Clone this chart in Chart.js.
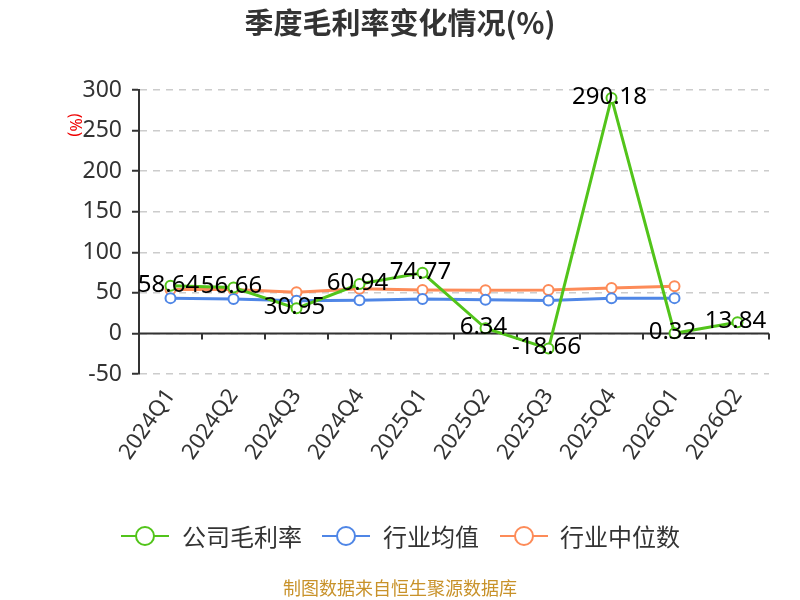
<!DOCTYPE html>
<html>
<head>
<meta charset="utf-8">
<script src="https://cdn.jsdelivr.net/npm/chart.js@4/dist/chart.umd.min.js"></script>
<style>
  html, body { margin: 0; padding: 0; background: #fff; }
  #wrap { width: 800px; height: 600px; }
</style>
</head>
<body>
<div id="wrap"><canvas id="chart" width="800" height="600"></canvas></div>
<script>
var FONT = '"Noto Sans", "Noto Sans CJK SC", sans-serif';
var CJK = '"Noto Sans CJK SC", sans-serif';

var quarters = ['2024Q1', '2024Q2', '2024Q3', '2024Q4', '2025Q1', '2025Q2', '2025Q3', '2025Q4', '2026Q1', '2026Q2'];
var companyMargin = [58.64, 56.66, 30.95, 60.94, 74.77, 6.34, -18.66, 290.18, 0.32, 13.84];
var industryAvg = [43.5, 42.3, 40.2, 40.8, 42.5, 41.5, 40.5, 43.2, 43.5, null];
var industryMedian = [54, 54, 50.8, 55, 53.5, 53.3, 53.5, 56, 58, null];
var yTicks = [-50, 0, 50, 100, 150, 200, 250, 300];

var seriesNames = ['公司毛利率', '行业均值', '行业中位数'];
var colors = ['#52c41a', '#4f86e6', '#fd8b58'];

// 标题、零轴、数据标签、图例、脚注
var decoPlugin = {
  id: 'deco',
  beforeDatasetsDraw: function(chart) {
    var ctx = chart.ctx, x = chart.scales.x, y = chart.scales.y;
    var y0 = y.getPixelForValue(0);
    ctx.save();
    ctx.strokeStyle = '#333';
    ctx.lineWidth = 2;
    ctx.beginPath();
    ctx.moveTo(x.left, y0);
    ctx.lineTo(x.right, y0);
    var step = (x.right - x.left) / quarters.length;
    for (var i = 0; i <= quarters.length; i++) {
      var px = Math.round(x.left + step * i);
      ctx.moveTo(px, y0);
      ctx.lineTo(px, y0 + 6);
    }
    ctx.stroke();
    ctx.restore();
  },
  afterDatasetsDraw: function(chart) {
    var ctx = chart.ctx;
    var meta = chart.getDatasetMeta(0);
    ctx.save();
    ctx.font = '24px ' + FONT;
    ctx.fillStyle = '#000';
    ctx.textAlign = 'center';
    ctx.textBaseline = 'middle';
    meta.data.forEach(function(pt, i) {
      ctx.fillText(companyMargin[i].toFixed(2), pt.x - 2, pt.y - 1);
    });
    ctx.restore();
  },
  afterDraw: function(chart) {
    var ctx = chart.ctx;
    ctx.save();
    // 标题
    ctx.font = 'bold 29px ' + CJK;
    ctx.fillStyle = '#333';
    ctx.textAlign = 'center';
    ctx.textBaseline = 'middle';
    ctx.fillText('季度毛利率变化情况(%)', 400, 23);

    // y轴单位
    ctx.save();
    ctx.translate(75, 125);
    ctx.rotate(Math.PI / 2);
    ctx.font = '16px ' + FONT;
    ctx.fillStyle = '#e00';
    ctx.fillText('(%)', 0, 0);
    ctx.restore();

    // 图例
    var items = [
      { x: 121, tx: 182 },
      { x: 322, tx: 383 },
      { x: 500, tx: 560 }
    ];
    var ly = 536;
    items.forEach(function(it, i) {
      ctx.strokeStyle = colors[i];
      ctx.lineWidth = 2;
      ctx.beginPath();
      ctx.moveTo(it.x, ly);
      ctx.lineTo(it.x + 48, ly);
      ctx.stroke();
      ctx.beginPath();
      ctx.arc(it.x + 24, ly, 9, 0, Math.PI * 2);
      ctx.fillStyle = '#fff';
      ctx.fill();
      ctx.stroke();
      ctx.font = '24px ' + CJK;
      ctx.fillStyle = '#333';
      ctx.textAlign = 'left';
      ctx.fillText(seriesNames[i], it.tx, ly + 1);
    });

    // 脚注
    ctx.font = '18px ' + CJK;
    ctx.fillStyle = '#c8922a';
    ctx.textAlign = 'center';
    ctx.fillText('制图数据来自恒生聚源数据库', 400, 588);
    ctx.restore();
  }
};

function makeSet(label, data, color) {
  return {
    label: label,
    data: data,
    borderColor: color,
    backgroundColor: '#fff',
    borderWidth: 3,
    pointRadius: 5,
    pointBorderWidth: 2,
    pointBackgroundColor: '#fff',
    pointBorderColor: color,
    tension: 0,
    spanGaps: false
  };
}

var ctx = document.getElementById('chart').getContext('2d');
var chart = new Chart(ctx, {
  type: 'line',
  data: {
    labels: quarters,
    datasets: [
      makeSet(seriesNames[0], companyMargin, colors[0]),
      makeSet(seriesNames[1], industryAvg, colors[1]),
      makeSet(seriesNames[2], industryMedian, colors[2])
    ]
  },
  options: {
    responsive: false,
    animation: false,
    layout: { padding: { left: 0, right: 31, top: 90, bottom: 0 } },
    plugins: {
      legend: { display: false },
      title: { display: false },
      tooltip: { enabled: false }
    },
    scales: {
      x: {
        offset: true,
        grid: { display: false, drawTicks: false },
        border: { display: false },
        ticks: {
          maxRotation: 55,
          minRotation: 55,
          padding: 10,
          color: '#333',
          font: { size: 22, family: FONT }
        },
        afterFit: function(scale) { scale.height = 226; }
      },
      y: {
        min: -50,
        max: 300,
        afterBuildTicks: function(scale) {
          scale.ticks = yTicks.map(function(v) { return { value: v }; });
        },
        grid: {
          color: '#ccc',
          lineWidth: 1.5,
          tickColor: '#333',
          tickLength: 7,
          tickWidth: 2
        },
        border: { display: true, color: '#333', width: 2, dash: [7, 6] },
        ticks: {
          padding: 10,
          color: '#333',
          font: { size: 23, family: FONT }
        },
        afterFit: function(scale) { scale.width = 139; }
      }
    }
  },
  plugins: [decoPlugin]
});
</script>
</body>
</html>
